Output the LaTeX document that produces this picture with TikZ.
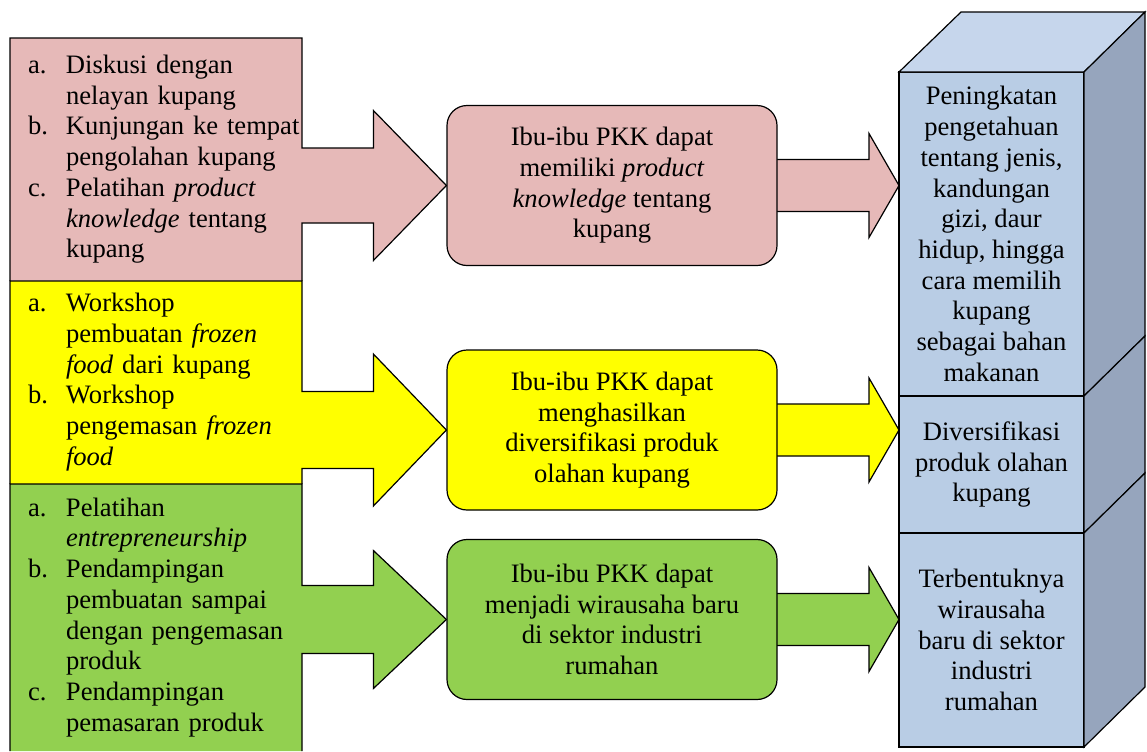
\documentclass[tikz,border=0pt]{standalone}
\usepackage{fontspec}
\setmainfont{Liberation Serif}
\usepackage{tikz}
\usetikzlibrary{backgrounds,calc,positioning}

\definecolor{merahmuda}{HTML}{E6B9B8}
\definecolor{kuning}{HTML}{FFFF00}
\definecolor{hijau}{HTML}{92D050}
\definecolor{birudepan}{HTML}{B9CDE5}
\definecolor{birusamping}{HTML}{96A5BD}
\definecolor{biruatas}{HTML}{C6D6EC}

\newcommand{\teks}{\fontsize{13.3}{15.35}\selectfont}

\tikzset{
    % Define standard line
    garis/.style={
           draw=black,
           line width=0.6pt,}
}

% box with block arrow: #1 box, #2 target, #3 shaft half, #4 head half, #5 colour
\newcommand{\kotakpanah}[5]{%
  \path[garis, fill=#5]
    (#1.south west) -- (#1.north west) -- (#1.north east)
    -- ($(#1.east |- #2.west)+(0,-#3)$)
    -- ($(#2.west)+(-73,-#3)$) -- ($(#2.west)+(-73,-#4)$)
    -- (#2.west)
    -- ($(#2.west)+(-73,#4)$) -- ($(#2.west)+(-73,#3)$)
    -- ($(#1.east |- #2.west)+(0,#3)$)
    -- (#1.south east);}

% small block arrow: #1 from, #2 to, #3 colour
\newcommand{\panahkecil}[3]{%
  \path[garis, fill=#3]
    ($(#1.center)+(0,-26)$)
    -- ($(#2.west |- #1.center)+(-30,-26)$) -- ($(#2.west |- #1.center)+(-30,-52)$)
    -- (#2.west |- #1.center)
    -- ($(#2.west |- #1.center)+(-30,52)$) -- ($(#2.west |- #1.center)+(-30,26)$)
    -- ($(#1.center)+(0,26)$) -- cycle;}

\begin{document}
\begin{tikzpicture}[x=0.5pt, y=-0.5pt,
kegiatan/.style={rectangle, inner xsep=9pt, inner ysep=0pt, outer sep=0pt, text width=128pt, minimum width=146pt, align=left, font=\teks},
hasil/.style={rectangle, rounded corners=10pt, garis, minimum width=165pt, minimum height=80pt, align=center, font=\teks},
dampak/.style={rectangle, garis, fill=birudepan, outer sep=0pt, minimum width=92.5pt, inner sep=0pt, align=center, font=\teks},
]
\useasboundingbox (0,0) rectangle (1147,751);

%Kegiatan
\node[kegiatan, minimum height=121.5pt] (kegA) at (156,159.5) {%
\begin{tabular}{@{}p{19pt}@{}l@{}}
a. & Diskusi dengan\\
   & nelayan kupang\\
b. & Kunjungan ke tempat\\
   & pengolahan kupang\\
c. & Pelatihan \textit{product}\\
   & \textit{knowledge} tentang\\
   & kupang
\end{tabular}};
\node[kegiatan, minimum height=101.5pt, below=0pt of kegA] (kegB) {%
\begin{tabular}{@{}p{19pt}@{}l@{}}
a. & Workshop\\
   & pembuatan \textit{frozen}\\
   & \textit{food} dari kupang\\
b. & Workshop\\
   & pengemasan \textit{frozen}\\
   & \textit{food}
\end{tabular}};
\node[kegiatan, minimum height=133.5pt, below=0pt of kegB] (kegC) {%
\begin{tabular}{@{}p{19pt}@{}l@{}}
a. & Pelatihan\\
   & \textit{entrepreneurship}\\
b. & Pendampingan\\
   & pembuatan sampai\\
   & dengan pengemasan\\
   & produk\\
c. & Pendampingan\\
   & pemasaran produk
\end{tabular}};

%Hasil
\node[hasil, fill=merahmuda] (hasilA) at (612,185.5)
  {Ibu-ibu PKK dapat\\memiliki \textit{product}\\\textit{knowledge} tentang\\kupang};
\node[hasil, fill=kuning] (hasilB) at (612,430)
  {Ibu-ibu PKK dapat\\menghasilkan\\diversifikasi produk\\olahan kupang};
\node[hasil, fill=hijau] (hasilC) at (612,619.5)
  {Ibu-ibu PKK dapat\\menjadi wirausaha baru\\di sektor industri\\rumahan};

%Dampak
\node[dampak, minimum height=162pt] (dampakA) at (991.5,234)
  {Peningkatan\\pengetahuan\\tentang jenis,\\kandungan\\gizi, daur\\hidup, hingga\\cara memilih\\kupang\\sebagai bahan\\makanan};
\node[dampak, minimum height=68.5pt, below=0pt of dampakA] (dampakB)
  {Diversifikasi\\produk olahan\\kupang};
\node[dampak, minimum height=107pt, below=0pt of dampakB] (dampakC)
  {Terbentuknya\\wirausaha\\baru di sektor\\industri\\rumahan};

%Sisi balok
\path[garis, fill=biruatas] (dampakA.north west) -- ++(62,-60)
  -- ($(dampakA.north east)+(61,-60)$) -- (dampakA.north east) -- cycle;
\path[garis, fill=birusamping] (dampakA.north east) -- ++(61,-60)
  -- ($(dampakA.south east)+(61,-60)$) -- (dampakA.south east) -- cycle;
\path[garis, fill=birusamping] (dampakB.north east) -- ++(61,-60)
  -- ($(dampakB.south east)+(61,-60)$) -- (dampakB.south east) -- cycle;
\path[garis, fill=birusamping] (dampakC.north east) -- ++(61,-60)
  -- ($(dampakC.south east)+(61,-60)$) -- (dampakC.south east) -- cycle;

%Panah
\begin{scope}[on background layer]
\kotakpanah{kegA}{hasilA}{37.5}{75}{merahmuda}
\kotakpanah{kegB}{hasilB}{38.5}{76}{kuning}
\kotakpanah{kegC}{hasilC}{34}{69}{hijau}
\panahkecil{hasilA}{dampakA}{merahmuda}
\panahkecil{hasilB}{dampakB}{kuning}
\panahkecil{hasilC}{dampakC}{hijau}
\end{scope}

\end{tikzpicture}
\end{document}
